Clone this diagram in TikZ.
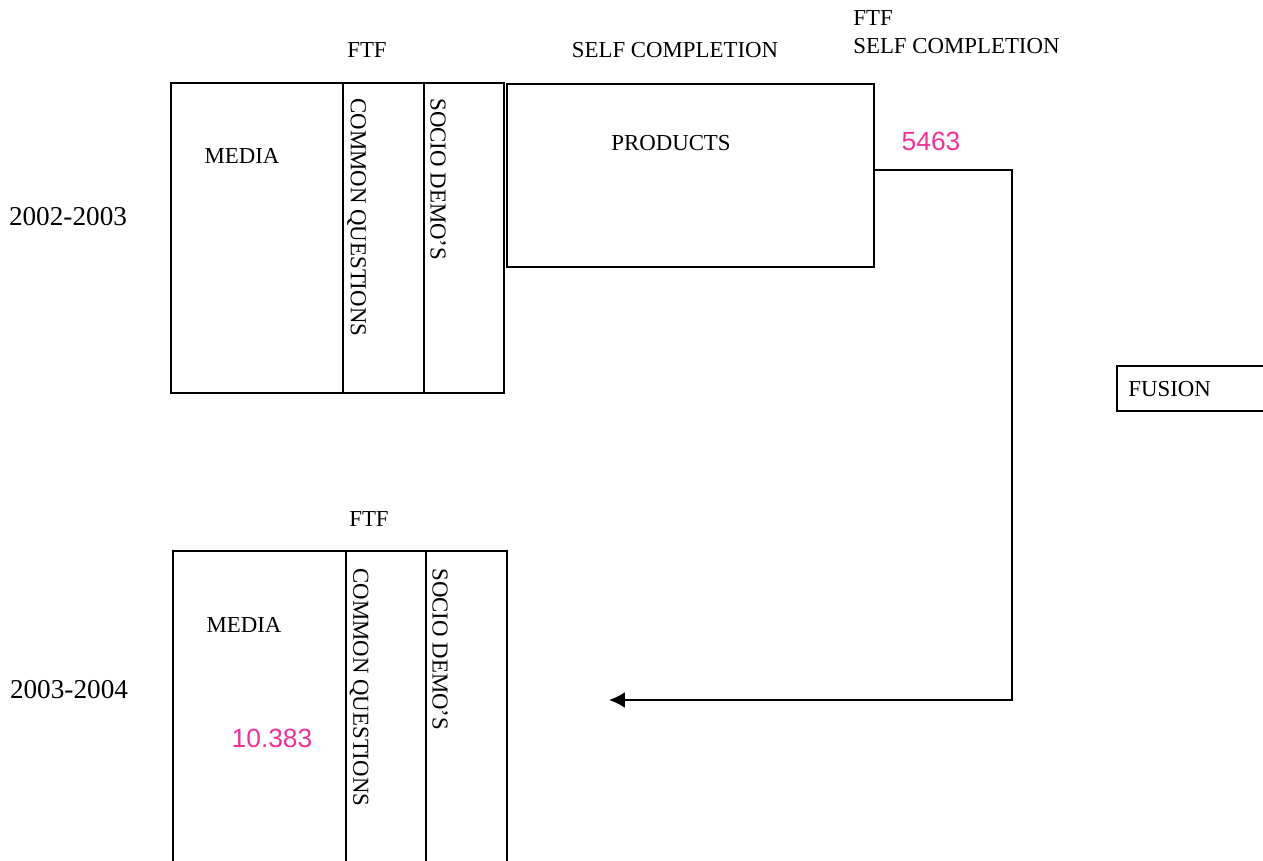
\documentclass[tikz,border=0pt]{standalone}
\usepackage{fontspec}
\setmainfont{Liberation Serif}
\newfontfamily\numfont{Liberation Sans}
\usepackage{xcolor}
\definecolor{pinknum}{RGB}{238,50,150}
\usetikzlibrary{arrows.meta,positioning}

\begin{document}
\begin{tikzpicture}[x=0.02cm,y=-0.02cm]
		\tikzstyle{every node}=[font=\fontsize{13}{15}\selectfont, inner sep=0pt]
		\tikzstyle{num}=[font=\numfont\fontsize{15}{17}\selectfont, text=pinknum]
		\tikzstyle{year}=[font=\fontsize{15.5}{18}\selectfont]
		\tikzstyle{vert}=[rotate=-90, anchor=west]
		\tikzstyle{frame}=[line width=1pt]
		\useasboundingbox (0,0) rectangle (1263,861);
		% 2002-2003 block
		\draw [frame] (171,83) rectangle (504,393);
		\draw [frame] (343,83) -- (343,393);
		\draw [frame] (424,83) -- (424,393);
		\node [frame, draw, anchor=north west, minimum width=7.34cm, minimum height=3.66cm] (products) at (506,83) {};
		\node (ftfA) at (367,50) {FTF};
		\node (selfA) at (675,50) {SELF COMPLETION};
		\node [anchor=west] (ftfB) at (853,18) {FTF};
		\node [anchor=west] (selfB) at (853,46) {SELF COMPLETION};
		\node (mediaA) at (242,156) {MEDIA};
		\node [vert] (commonA) at (356.5,98) {COMMON QUESTIONS};
		\node [vert] (socioA) at (438,98) {SOCIO DEMO'S};
		\node (prodlabel) at (671,143) {PRODUCTS};
		\node [num] (nA) at (931,141) {5463};
		\node [year] (yearA) at (68,217) {2002-2003};
		% fusion box
		\draw [frame] (1263,366) -- (1117,366) -- (1117,411) -- (1263,411);
		\node [anchor=west] (fusion) at (1128,389) {FUSION};
		% 2003-2004 block
		\draw [frame] (173,861) -- (173,551) -- (507,551) -- (507,861);
		\draw [frame] (346,551) -- (346,861);
		\draw [frame] (426,551) -- (426,861);
		\node (ftfC) at (369,519) {FTF};
		\node (mediaC) at (244,625) {MEDIA};
		\node [vert] (commonC) at (359,568) {COMMON QUESTIONS};
		\node [vert] (socioC) at (440,568) {SOCIO DEMO'S};
		\node [num] (nC) at (272,738) {10.383};
		\node [year] (yearC) at (69,690) {2003-2004};
		% connector
		\coordinate (turn) at (1012,170);
		\coordinate (arrowend) at (609,700);
		\draw [frame, -{Latex[length=9pt,width=9pt]}] (products.north east |- turn) -- (turn) |- (arrowend);
\end{tikzpicture}
\end{document}
